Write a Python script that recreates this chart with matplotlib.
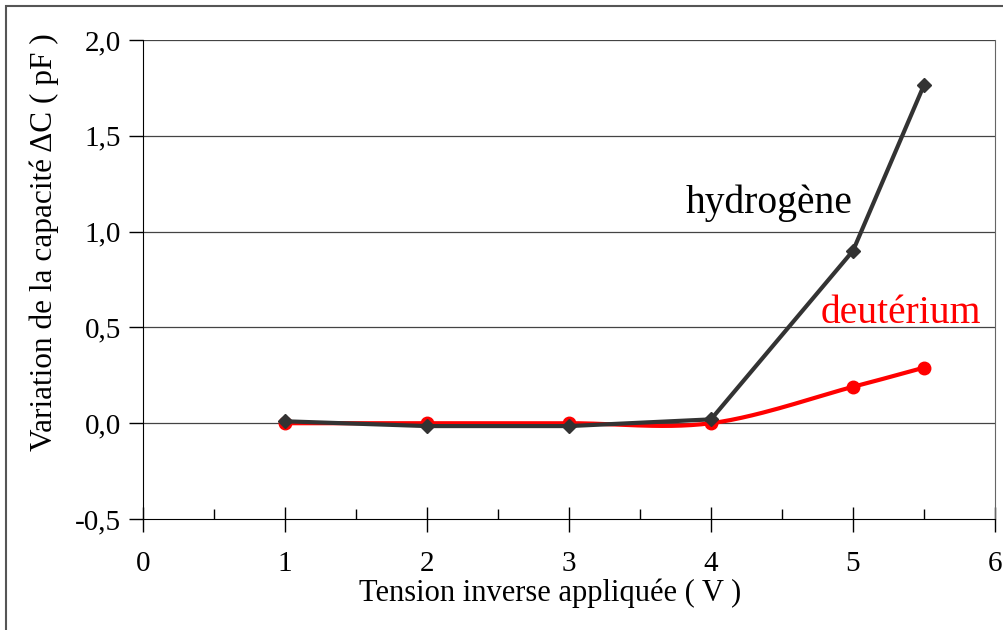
import numpy as np
import matplotlib.pyplot as plt
from matplotlib.ticker import MultipleLocator, FuncFormatter
from matplotlib.patches import Rectangle

# tension inverse (V) et variation de capacité (pF)
tension = [1, 2, 3, 4, 5, 5.5]
dc_hydrogene = [0.01, -0.015, -0.015, 0.02, 0.90, 1.765]
dc_deuterium = [0.0, 0.0, 0.0, 0.0, 0.19, 0.29]


def lisse(x, y, n=30):
    # courbe lissée type Catmull-Rom passant par les points
    x = np.asarray(x, float)
    y = np.asarray(y, float)
    px = np.concatenate([[2 * x[0] - x[1]], x, [2 * x[-1] - x[-2]]])
    py = np.concatenate([[2 * y[0] - y[1]], y, [2 * y[-1] - y[-2]]])
    t = np.linspace(0, 1, n)[:, None]
    xs, ys = [], []
    for i in range(1, len(px) - 2):
        p0, p1, p2, p3 = [np.array([px[j], py[j]]) for j in (i - 1, i, i + 1, i + 2)]
        pts = 0.5 * (2 * p1 + (-p0 + p2) * t
                     + (2 * p0 - 5 * p1 + 4 * p2 - p3) * t ** 2
                     + (-p0 + 3 * p1 - 3 * p2 + p3) * t ** 3)
        xs.extend(pts[:, 0])
        ys.extend(pts[:, 1])
    return np.array(xs), np.array(ys)


plt.rcParams['font.family'] = ['Liberation Serif', 'DejaVu Serif']

fig = plt.figure(figsize=(10.04, 6.3), dpi=100)
ax = fig.add_axes([143 / 1004, 1 - 519 / 630, (995 - 143) / 1004, (519 - 40) / 630])

# cadre du graphique
fig.patches.append(Rectangle((6 / 1004, -0.01), 1.02, 1 - 6 / 630 + 0.01,
                             transform=fig.transFigure, fill=False,
                             edgecolor='#555555', linewidth=1.5))

ax.set_xlim(0, 6)
ax.set_ylim(-0.5, 2.0)
ax.yaxis.set_major_locator(MultipleLocator(0.5))
ax.xaxis.set_major_locator(MultipleLocator(1))
ax.xaxis.set_minor_locator(MultipleLocator(0.5))
ax.yaxis.set_major_formatter(FuncFormatter(lambda v, p: f"{v:.1f}".replace('.', ',')))

for y in np.arange(0, 2.01, 0.5):
    ax.axhline(y, color='#444444', linewidth=0.9, zorder=1)

ax.spines['top'].set_visible(False)
ax.spines['right'].set_color('#666666')
ax.spines['left'].set_color('black')
ax.spines['bottom'].set_color('black')

ax.tick_params(axis='y', which='major', direction='out', length=10, width=1,
               labelsize=21, pad=6)
ax.tick_params(axis='x', which='major', direction='inout', length=18, width=1,
               labelsize=21, pad=14)
ax.tick_params(axis='x', which='minor', direction='in', length=7, width=1)

xs, ys = lisse(tension, dc_deuterium)
ax.plot(xs, ys, color='red', linewidth=3, zorder=3, solid_capstyle='round')
ax.plot(tension, dc_deuterium, 'o', color='red', markersize=9, zorder=4)

ax.plot(tension, dc_hydrogene, color='#333333', linewidth=3, marker='D',
        markersize=7, zorder=5)

ax.text(3.82, 1.097, "hydrogène", color='black', fontsize=28.5, ha='left', va='baseline')
ax.text(4.77, 0.522, "deutérium", color='red', fontsize=28.5, ha='left', va='baseline')

ax.set_xlabel("Tension inverse appliquée ( V )", fontsize=22)
ax.set_ylabel("Variation de la capacité ΔC ( pF )", fontsize=22.5)
ax.xaxis.set_label_coords(0.478, -0.125)
ax.yaxis.set_label_coords(-0.099, 0.578)

fig.savefig("out.png", dpi=100)
